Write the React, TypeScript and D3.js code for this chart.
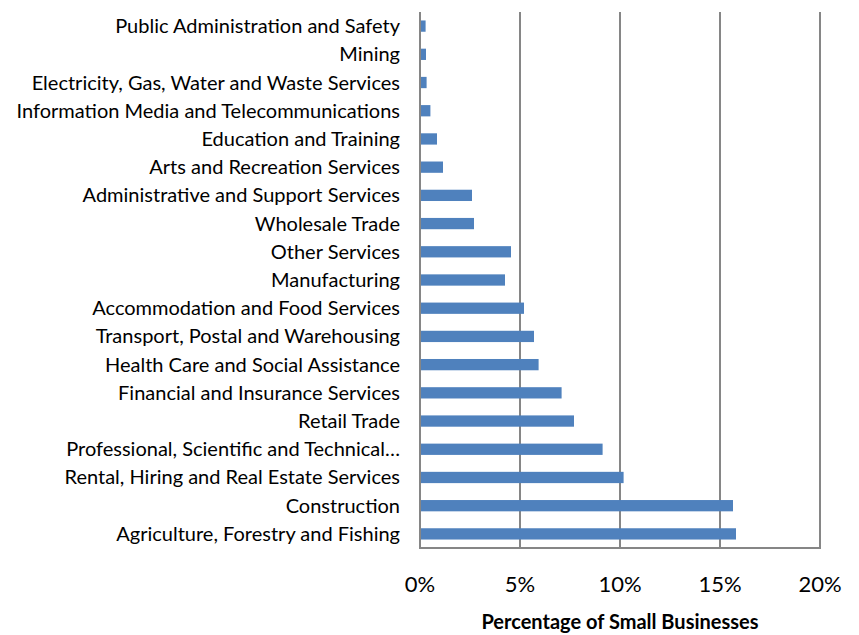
import React from "react";
import * as d3 from "d3";

const categories = [
  "Public Administration and Safety",
  "Mining",
  "Electricity, Gas, Water and Waste Services",
  "Information Media and Telecommunications",
  "Education and Training",
  "Arts and Recreation Services",
  "Administrative and Support Services",
  "Wholesale Trade",
  "Other Services",
  "Manufacturing",
  "Accommodation and Food Services",
  "Transport, Postal and Warehousing",
  "Health Care and Social Assistance",
  "Financial and Insurance Services",
  "Retail Trade",
  "Professional, Scientific and Technical…",
  "Rental, Hiring and Real Estate Services",
  "Construction",
  "Agriculture, Forestry and Fishing",
];
const values = [0.28, 0.3, 0.33, 0.52, 0.85, 1.15, 2.6, 2.7, 4.55, 4.25, 5.2, 5.7, 5.93, 7.08, 7.7, 9.13, 10.18, 15.65, 15.8];
const ticks = [0, 5, 10, 15, 20];
const xTitle = "Percentage of Small Businesses";

const W = 859, H = 635;
const left = 420, right = 820, top = 12, bottom = 548;

export default function App() {
  const x = d3.scaleLinear().domain([0, 20]).range([left, right]);
  const y = d3.scaleBand<string>().domain(categories).range([top, bottom]).paddingInner(0.6).paddingOuter(0.3);
  const font = "Lato, 'Open Sans', sans-serif";
  return (
    <svg width={W} height={H} style={{ position: "absolute", left: 0, top: 0 }} fontFamily={font}>
      <rect width={W} height={H} fill="#fff" />
      {ticks.map((t) => (
        <line key={t} x1={x(t)} x2={x(t)} y1={top} y2={bottom} stroke="#868686" strokeWidth={2} />
      ))}
      <line x1={left - 1} x2={right + 1} y1={bottom} y2={bottom} stroke="#868686" strokeWidth={2} />
      {categories.map((c, i) => (
        <g key={c}>
          <rect x={x(0) + 1} y={y(c)!} width={x(values[i]) - x(0) - 1} height={y.bandwidth()} fill="#4F81BD" />
          <text x={400} y={y(c)! + y.bandwidth() / 2} dy="0.35em" textAnchor="end" fontSize={20} fill="#000">{c}</text>
        </g>
      ))}
      {ticks.map((t) => (
        <text key={t} x={x(t)} y={592} textAnchor="middle" fontSize={22} fill="#000">{t}%</text>
      ))}
      <text x={620} y={629} textAnchor="middle" fontSize={20} fontWeight="bold" fill="#000">{xTitle}</text>
    </svg>
  );
}
